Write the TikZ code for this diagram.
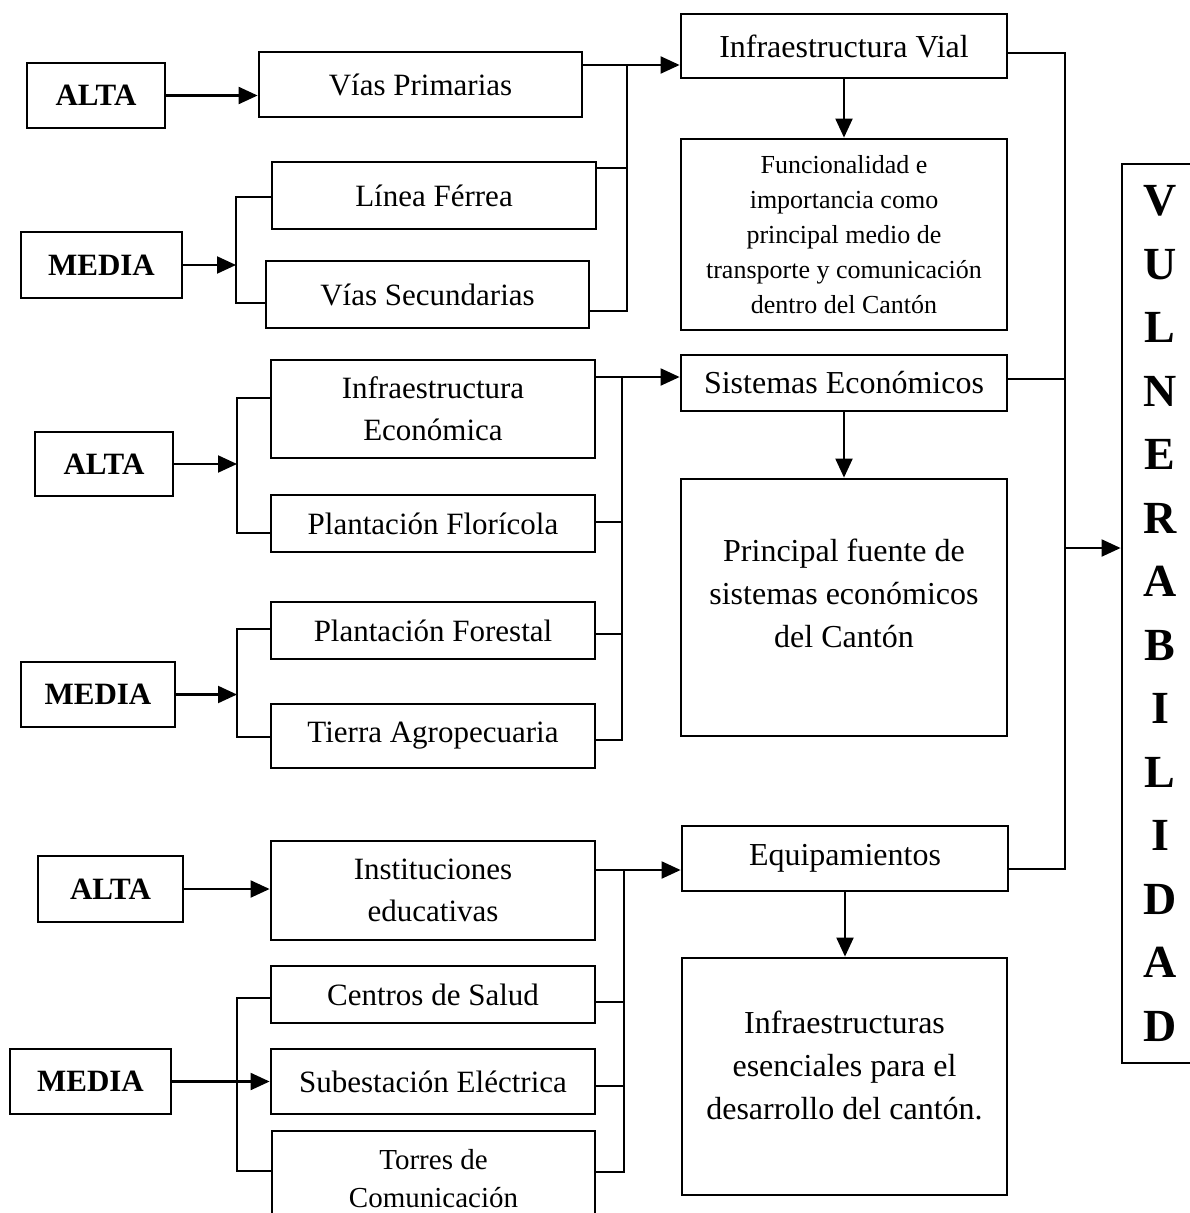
\documentclass[tikz,border=0pt]{standalone}
\usepackage{fontspec}
\setmainfont{Liberation Serif}
\usetikzlibrary{arrows.meta}
\begin{document}
\begin{tikzpicture}[x=1pt,y=-1pt,
  box/.style={draw, line width=2.8pt, rectangle, inner sep=0pt, align=center, font=\fontsize{31}{42}\selectfont},
  rbox/.style={box, font=\fontsize{32}{43}\selectfont},
  lvl/.style={box, font=\fontsize{31}{37}\selectfont\bfseries},
  ln/.style={line width=1.9pt},
  arr/.style={line width=2.1pt, -{Triangle[length=19pt,width=17pt]}},
]
\useasboundingbox (0,0) rectangle (1190,1213);
% level boxes
\node[lvl, minimum width=138pt, minimum height=65pt] (alta1) at (96,95.5) {ALTA};
\node[lvl, minimum width=161pt, minimum height=66pt] (media1) at (101.5,265) {MEDIA};
\node[lvl, minimum width=138pt, minimum height=64pt] (alta2) at (104,464) {ALTA};
\node[lvl, minimum width=154pt, minimum height=65pt] (media2) at (98,694.5) {MEDIA};
\node[lvl, minimum width=145pt, minimum height=66pt] (alta3) at (110.5,889) {ALTA};
\node[lvl, minimum width=161pt, minimum height=65pt] (media3) at (90.5,1081.5) {MEDIA};
% left column
\node[box, minimum width=323pt, minimum height=65pt] (vp) at (420.5,84.5) {Vías Primarias};
\node[box, minimum width=324pt, minimum height=67pt] (lf) at (434,195.5) {Línea Férrea};
\node[box, minimum width=323pt, minimum height=67pt] (vs) at (427.5,294.5) {Vías Secundarias};
\node[box, minimum width=324pt, minimum height=98pt] (ie) at (433,409) {Infraestructura\\Económica};
\node[box, minimum width=324pt, minimum height=57pt] (pfl) at (433,523.5) {Plantación Florícola};
\node[box, minimum width=324pt, minimum height=57pt] (pfo) at (433,630.5) {Plantación Forestal};
\node[box, minimum width=324pt, minimum height=64pt] (ta) at (433,736) {Tierra Agropecuaria};
\node[box, minimum width=324pt, minimum height=99pt] (ins) at (433,890.5) {Instituciones\\educativas};
\node[box, minimum width=324pt, minimum height=57pt] (cs) at (433,994.5) {Centros de Salud};
\node[box, minimum width=324pt, minimum height=65pt] (sub) at (433,1081.5) {Subestación Eléctrica};
\node[box, minimum width=323pt, minimum height=96pt, font=\fontsize{29}{38}\selectfont] (tor) at (433.5,1179) {Torres de\\Comunicación};
% right column
\node[rbox, minimum width=326pt, minimum height=64pt] (iv) at (844,46) {Infraestructura Vial};
\node[rbox, minimum width=326pt, minimum height=191pt, font=\fontsize{26}{35}\selectfont] (fun) at (844,234.5) {Funcionalidad e\\importancia como\\principal medio de\\transporte y comunicación\\dentro del Cantón};
\node[rbox, minimum width=326pt, minimum height=56pt] (se) at (844,383) {Sistemas Económicos};
\node[rbox, minimum width=326pt, minimum height=257pt] (pf) at (844,607.5) {Principal fuente de\\sistemas económicos\\del Cantón\\[-15pt]\mbox{}};
\node[rbox, minimum width=326pt, minimum height=65pt] (eq) at (845,858.5) {Equipamientos};
\node[rbox, minimum width=325pt, minimum height=237pt] (inf) at (844.5,1076.5) {Infraestructuras\\esenciales para el\\desarrollo del cantón.\\[-21pt]\mbox{}};
\node[box, minimum width=76pt, minimum height=899pt, font=\fontsize{46}{63.5}\selectfont\bfseries] (vul) at (1160,613.5) {V\\U\\L\\N\\E\\R\\A\\B\\I\\L\\I\\D\\A\\D};
% group 1
\coordinate (a1) at (627,65);
\coordinate (a2) at (627,168);
\coordinate (a3) at (627,311);
\draw[arr] (alta1.east) -- (vp.west |- alta1.east);
\draw[ln] (vp.east |- a1) -- (a1);
\draw[arr] (a1) -- (iv.west |- a1);
\draw[ln] (lf.east |- a2) -- (a2);
\draw[ln] (vs.east |- a3) -- (a3) -- (a1);
\coordinate (b1) at (236,197);
\coordinate (b2) at (236,303);
\draw[ln] (lf.west |- b1) -- (b1) -- (b2) -- (vs.west |- b2);
\draw[arr] (media1.east) -- (b1 |- media1.east);
% group 2
\coordinate (c1) at (622,377);
\coordinate (c2) at (622,522);
\coordinate (c3) at (622,634);
\coordinate (c4) at (622,740);
\draw[ln] (ie.east |- c1) -- (c1);
\draw[arr] (c1) -- (se.west |- c1);
\draw[ln] (pfl.east |- c2) -- (c2);
\draw[ln] (pfo.east |- c3) -- (c3);
\draw[ln] (ta.east |- c4) -- (c4) -- (c1);
\coordinate (d1) at (237,398);
\coordinate (d2) at (237,533);
\draw[ln] (ie.west |- d1) -- (d1) -- (d2) -- (pfl.west |- d2);
\draw[arr] (alta2.east) -- (d1 |- alta2.east);
\coordinate (e1) at (237,629);
\coordinate (e2) at (237,737);
\draw[ln] (pfo.west |- e1) -- (e1) -- (e2) -- (ta.west |- e2);
\draw[arr] (media2.east) -- (e1 |- media2.east);
% group 3
\coordinate (f1) at (624,870);
\coordinate (f2) at (624,1002);
\coordinate (f3) at (624,1086);
\coordinate (f4) at (624,1172);
\draw[ln] (ins.east |- f1) -- (f1);
\draw[arr] (f1) -- (eq.west |- f1);
\draw[ln] (cs.east |- f2) -- (f2);
\draw[ln] (sub.east |- f3) -- (f3);
\draw[ln] (tor.east |- f4) -- (f4) -- (f1);
\coordinate (g1) at (237,998);
\coordinate (g2) at (237,1171);
\draw[ln] (cs.west |- g1) -- (g1) -- (g2) -- (tor.west |- g2);
\draw[arr] (alta3.east) -- (ins.west |- alta3.east);
\draw[arr] (media3.east) -- (sub.west |- media3.east);
% right side
\coordinate (h1) at (1065,53);
\coordinate (h2) at (1065,379);
\coordinate (h3) at (1065,869);
\coordinate (h4) at (1065,548);
\draw[ln] (iv.east |- h1) -- (h1) -- (h3) -- (eq.east |- h3);
\draw[ln] (se.east |- h2) -- (h2);
\draw[arr] (h4) -- (vul.west |- h4);
\draw[arr] (iv.south) -- (iv.south |- fun.north);
\draw[arr] (se.south) -- (se.south |- pf.north);
\draw[arr] (eq.south) -- (eq.south |- inf.north);
\end{tikzpicture}
\end{document}
